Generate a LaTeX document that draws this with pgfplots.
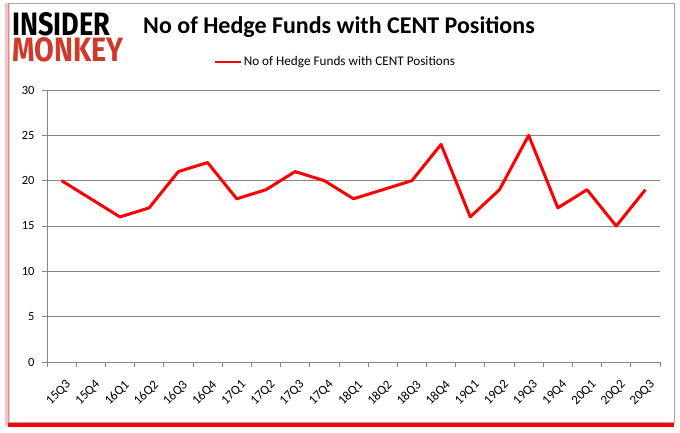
\documentclass[border=0pt]{standalone}
\usepackage{fontspec}
\setmainfont{Carlito}
\usepackage{pgfplots}
\pgfplotsset{compat=1.18}
\definecolor{monkeyred}{RGB}{208,58,43}
\definecolor{gridgray}{RGB}{134,134,134}

\pgfplotstableread{
x lab n
0 15Q3 20
1 15Q4 18
2 16Q1 16
3 16Q2 17
4 16Q3 21
5 16Q4 22
6 17Q1 18
7 17Q2 19
8 17Q3 21
9 17Q4 20
10 18Q1 18
11 18Q2 19
12 18Q3 20
13 18Q4 24
14 19Q1 16
15 19Q2 19
16 19Q3 25
17 19Q4 17
18 20Q1 19
19 20Q2 15
20 20Q3 19
}\cent

\begin{document}
\begin{tikzpicture}[x=1pt,y=1pt]
\useasboundingbox (0,0) rectangle (680,433);
\fill[white] (0,0) rectangle (680,433);
% frame with red shadow
\fill[red!25] (5,7) rectangle (10,430);
\fill[red] (8,6) rectangle (674,11);
\draw[gray!70, line width=0.8pt] (8,11) rectangle (674,430);
% logo
\node[anchor=west, inner sep=0] at (12,409) {\resizebox{98pt}{23pt}{\fontspec{Fira Sans}\bfseries INSIDER}};
\node[anchor=west, inner sep=0] at (12,383) {\resizebox{111pt}{24pt}{\fontspec{Fira Sans}\bfseries\color{monkeyred}MONKEY}};
% title
\node at (339,406) {\fontsize{24}{28}\selectfont\bfseries No of Hedge Funds with CENT Positions};
\begin{axis}[
  at={(47pt,71pt)}, anchor=south west,
  scale only axis, width=613pt, height=272pt,
  xmin=-0.5, xmax=20.5, ymin=0, ymax=30,
  axis x line*=bottom, axis y line*=left,
  axis line style={gridgray, line width=0.8pt},
  xtick=data, xticklabels from table={\cent}{lab},
  major x tick style={draw=none},
  minor xtick={-0.5,0.5,...,20.5},
  minor tick length=5pt,
  minor x tick style={gridgray, line width=0.8pt},
  x tick label style={rotate=45, anchor=north east, font=\fontsize{13}{14}\selectfont, inner sep=1pt, yshift=-10pt, xshift=-5pt},
  ytick={0,5,...,30},
  ymajorgrids, grid style={gridgray, line width=0.8pt},
  major y tick style={gridgray, line width=0.8pt},
  tick align=outside, major tick length=5pt,
  y tick label style={font=\fontsize{12.5}{13}\selectfont, xshift=-4pt},
  /pgf/number format/assume math mode=true,
  legend style={at={(axis description cs:0.47,1.103)}, anchor=center, draw=none, fill=none, font=\fontsize{13.2}{14}\selectfont, inner sep=1pt},
  legend image code/.code={\draw[#1, line width=2.5pt] (0pt,0pt) -- (26pt,0pt);},
  clip=false,
]
\addplot[red, line width=3pt, line join=round] table[x=x, y=n] {\cent};
\addlegendentry{No of Hedge Funds with CENT Positions}
\end{axis}
\end{tikzpicture}
\end{document}
